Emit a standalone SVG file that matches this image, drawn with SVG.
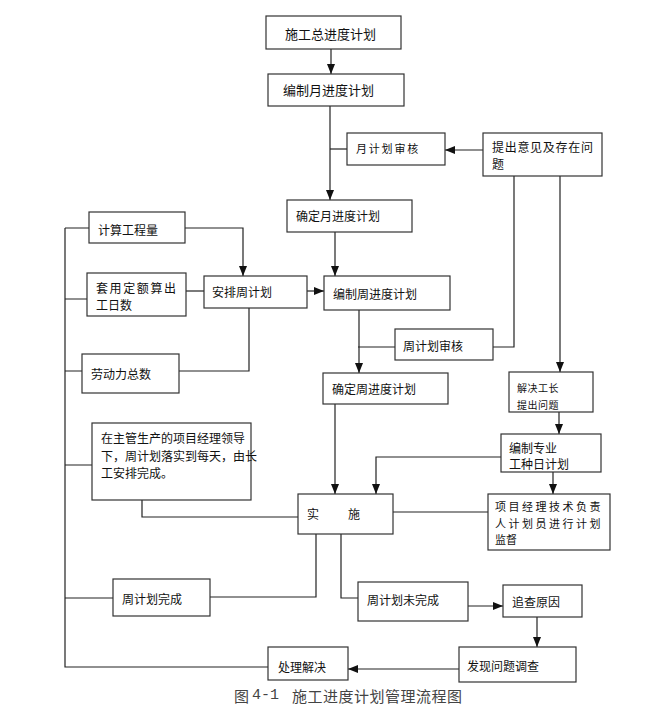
<svg xmlns="http://www.w3.org/2000/svg" width="652" height="714" viewBox="0 0 652 714">
<style>
.b{fill:#fff;stroke:#333;stroke-width:1.2}
.t{font-family:"Noto Sans CJK SC","Noto Sans",sans-serif;font-size:12px;fill:#111;dominant-baseline:central}
.big{font-size:13px}
.c{fill:none;stroke:#222;stroke-width:1.2}
.cap{font-family:"Noto Sans CJK SC",sans-serif;font-size:15px;fill:#444;dominant-baseline:central}
.capn{font-family:"Liberation Mono","DejaVu Sans Mono",monospace;font-size:15px;fill:#444;dominant-baseline:central}
</style>
<defs>
<marker id="a" markerUnits="userSpaceOnUse" markerWidth="10" markerHeight="10" viewBox="0 0 10 10" refX="10" refY="5" orient="auto">
<path d="M0,1 L10,5 L0,9 Z" fill="#111"/>
</marker>
</defs>
<g id="connectors">
<path class="c" d="M331,49 V74" marker-end="url(#a)"/>
<path class="c" d="M330,106 V200" marker-end="url(#a)"/>
<path class="c" d="M330,149 H347"/>
<path class="c" d="M483,150 H445" marker-end="url(#a)"/>
<path class="c" d="M514,176 V347 H493"/>
<path class="c" d="M560,176 V372" marker-end="url(#a)"/>
<path class="c" d="M335,232 V276" marker-end="url(#a)"/>
<path class="c" d="M185,228 H243 V276" marker-end="url(#a)"/>
<path class="c" d="M186,291 H204"/>
<path class="c" d="M179,371 H249 V308"/>
<path class="c" d="M307,291 H324" marker-end="url(#a)"/>
<path class="c" d="M359,310 V373" marker-end="url(#a)"/>
<path class="c" d="M358,347 H395"/>
<path class="c" d="M335,404 V494" marker-end="url(#a)"/>
<path class="c" d="M559,412 V434" marker-end="url(#a)"/>
<path class="c" d="M501,457 H376 V494" marker-end="url(#a)"/>
<path class="c" d="M553,472 V494" marker-end="url(#a)"/>
<path class="c" d="M393,512 H488"/>
<path class="c" d="M142,500 V517 H298"/>
<path class="c" d="M65,228 V667 H268"/>
<path class="c" d="M65,228 H89 M65,299 H87 M65,371 H82 M65,465 H92 M65,598 H113"/>
<path class="c" d="M210,597 H316 V534"/>
<path class="c" d="M341,534 V598 H358"/>
<path class="c" d="M468,606 H503" marker-end="url(#a)"/>
<path class="c" d="M537,617 V647" marker-end="url(#a)"/>
<path class="c" d="M459,669 H348" marker-end="url(#a)"/>
</g>
<g id="n1"><rect class="b" x="266" y="16" width="135" height="33"/><text class="t big" x="285" y="33">施工总进度计划</text></g>
<g id="n2"><rect class="b" x="268" y="74" width="136" height="32"/><text class="t big" x="283" y="89">编制月进度计划</text></g>
<g id="n3"><rect class="b" x="347" y="133" width="98" height="32"/><text class="t" x="356" y="148" style="font-size:11px;letter-spacing:1.8px">月计划审核</text></g>
<g id="n4"><rect class="b" x="483" y="133" width="119" height="43"/><text class="t" x="492" y="146" style="letter-spacing:0.7px">提出意见及存在问</text><text class="t" x="492" y="163">题</text></g>
<g id="n5"><rect class="b" x="287" y="200" width="125" height="32"/><text class="t" x="296" y="215">确定月进度计划</text></g>
<g id="n6"><rect class="b" x="89" y="212" width="96" height="31"/><text class="t" x="98" y="229">计算工程量</text></g>
<g id="n7"><rect class="b" x="87" y="273" width="99" height="43"/><text class="t" x="96" y="287" style="letter-spacing:1.6px">套用定额算出</text><text class="t" x="96" y="304">工日数</text></g>
<g id="n8"><rect class="b" x="204" y="276" width="103" height="32"/><text class="t" x="212" y="291">安排周计划</text></g>
<g id="n9"><rect class="b" x="324" y="276" width="126" height="34"/><text class="t" x="333" y="293">编制周进度计划</text></g>
<g id="n10"><rect class="b" x="395" y="329" width="98" height="31"/><text class="t" x="403" y="345">周计划审核</text></g>
<g id="n11"><rect class="b" x="82" y="354" width="97" height="39"/><text class="t" x="91" y="373">劳动力总数</text></g>
<g id="n12"><rect class="b" x="323" y="373" width="125" height="31"/><text class="t" x="332" y="388">确定周进度计划</text></g>
<g id="n13"><rect class="b" x="509" y="372" width="84" height="40"/><text class="t" x="517" y="387" style="font-size:10px;letter-spacing:0.5px">解决工长</text><text class="t" x="517" y="404" style="font-size:10px;letter-spacing:0.5px">提出问题</text></g>
<g id="n14"><rect class="b" x="92" y="423" width="159" height="77"/><text class="t" x="101" y="437">在主管生产的项目经理领导</text><text class="t" x="101" y="455">下，周计划落实到每天，由长</text><text class="t" x="101" y="472">工安排完成。</text></g>
<g id="n15"><rect class="b" x="501" y="434" width="100" height="38"/><text class="t" x="509" y="447">编制专业</text><text class="t" x="509" y="463">工种日计划</text></g>
<g id="n16"><rect class="b" x="298" y="494" width="95" height="40"/><text class="t" x="307" y="513">实</text><text class="t" x="348" y="513">施</text></g>
<g id="n17"><rect class="b" x="488" y="494" width="122" height="56"/><text class="t" x="495" y="506" style="font-size:11px;letter-spacing:2.5px">项目经理技术负责</text><text class="t" x="495" y="522.5" style="font-size:11px;letter-spacing:2.5px">人计划员进行计划</text><text class="t" x="495" y="539" style="font-size:11px">监督</text></g>
<g id="n18"><rect class="b" x="113" y="579" width="97" height="37"/><text class="t" x="122" y="598">周计划完成</text></g>
<g id="n19"><rect class="b" x="358" y="582" width="110" height="39"/><text class="t" x="367" y="599">周计划未完成</text></g>
<g id="n20"><rect class="b" x="503" y="585" width="79" height="32"/><text class="t" x="512" y="601">追查原因</text></g>
<g id="n21"><rect class="b" x="459" y="647" width="117" height="35"/><text class="t" x="467" y="665">发现问题调查</text></g>
<g id="n22"><rect class="b" x="268" y="647" width="80" height="33"/><text class="t" x="278" y="666">处理解决</text></g>
<g id="caption"><text class="cap" x="234" y="695">图</text><text class="capn" x="252" y="695">4-1</text><text class="cap" x="292" y="695" style="letter-spacing:0.5px">施工进度计划管理流程图</text></g>
</svg>
